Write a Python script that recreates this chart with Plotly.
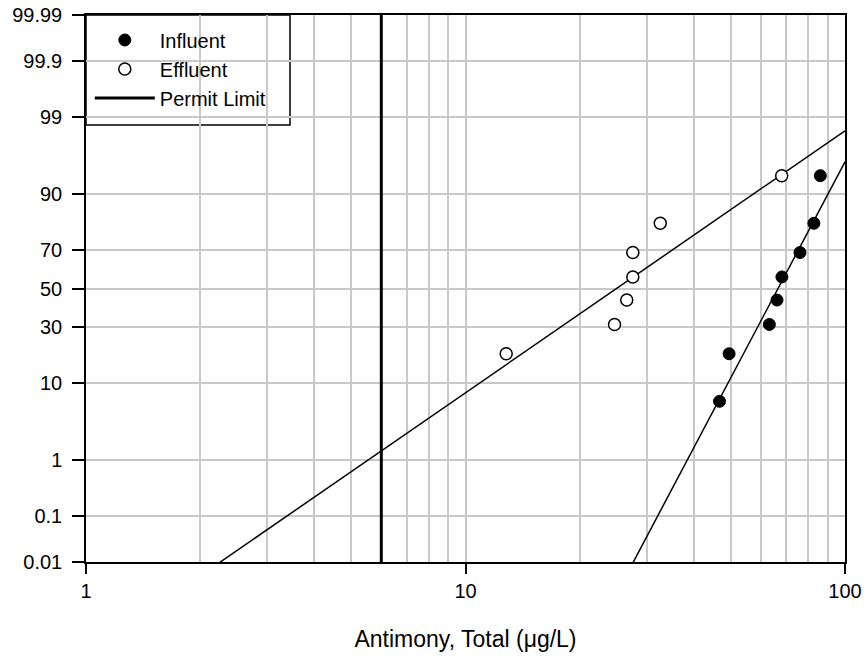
import plotly.graph_objects as go
from statistics import NormalDist
import math

# ---- data ----
influent_values = [46.7, 49.5, 63.2, 66.2, 68.2, 76.1, 82.8, 86.1]
influent_pct = [6.25, 18.75, 31.25, 43.75, 56.25, 68.75, 81.25, 93.75]
effluent_values = [12.8, 24.7, 26.6, 27.6, 27.6, 32.6, 68.1]
effluent_pct = [18.75, 31.25, 43.75, 56.25, 68.75, 81.25, 93.75]

# lognormal fit lines: geometric mean and log10 standard deviation
influent_fit_geomean = 66.6
influent_fit_logsd = 0.1025
effluent_fit_geomean = 25.0
effluent_fit_logsd = 0.2807
fit_x_range = [1, 100]

permit_limit = 6.0

y_tick_pct = [0.01, 0.1, 1, 10, 30, 50, 70, 90, 99, 99.9, 99.99]
y_tick_text = ["0.01", "0.1", "1", "10", "30", "50", "70", "90", "99", "99.9", "99.99"]
x_major = [1, 10, 100]
x_minor = [2, 3, 4, 5, 6, 7, 8, 9, 20, 30, 40, 50, 60, 70, 80, 90]

nd = NormalDist()


def z(p):
    return nd.inv_cdf(p / 100.0)


def fit_z(x, gm, sd):
    return (math.log10(x) - math.log10(gm)) / sd


zmin, zmax = z(0.01), z(99.99)
FONT = "Liberation Sans, Arial, sans-serif"

fig = go.Figure()

# fit lines (no legend)
fig.add_trace(go.Scatter(
    x=fit_x_range, y=[fit_z(v, effluent_fit_geomean, effluent_fit_logsd) for v in fit_x_range],
    mode="lines", line=dict(color="black", width=1.5), showlegend=False, hoverinfo="skip"))
fig.add_trace(go.Scatter(
    x=fit_x_range, y=[fit_z(v, influent_fit_geomean, influent_fit_logsd) for v in fit_x_range],
    mode="lines", line=dict(color="black", width=1.5), showlegend=False, hoverinfo="skip"))

fig.add_trace(go.Scatter(
    x=influent_values, y=[z(p) for p in influent_pct], mode="markers", name="Influent",
    marker=dict(symbol="circle", size=12, color="black", line=dict(color="black", width=1))))
fig.add_trace(go.Scatter(
    x=effluent_values, y=[z(p) for p in effluent_pct], mode="markers", name="Effluent",
    marker=dict(symbol="circle", size=12, color="white", line=dict(color="black", width=1.5))))
fig.add_trace(go.Scatter(
    x=[permit_limit, permit_limit], y=[zmin, zmax], mode="lines", name="Permit Limit",
    line=dict(color="black", width=3)))

# legend box
fig.add_shape(type="rect", xref="paper", yref="paper", x0=0, x1=(290 - 86) / 759, y0=1 - (125 - 15) / 547, y1=1,
              line=dict(color="black", width=1.5), fillcolor="white", layer="below")

fig.update_layout(
    width=866, height=662,
    margin=dict(l=86, r=21, t=15, b=100, autoexpand=False),
    paper_bgcolor="white", plot_bgcolor="white",
    font=dict(family=FONT, size=20, color="black"),
    showlegend=True,
    legend=dict(x=0.005, y=0.99, xanchor="left", yanchor="top", bgcolor="rgba(0,0,0,0)",
                borderwidth=0, font=dict(size=20), itemwidth=60),
    xaxis=dict(type="log", range=[0, 2], tickvals=x_major, ticktext=["1", "10", "100"],
               ticks="outside", ticklen=10, tickwidth=1.5, tickcolor="black",
               ticklabeloverflow="allow", automargin=False,
               showline=True, linecolor="black", linewidth=1.5, mirror=True,
               showgrid=True, gridcolor="#c8c8c8", gridwidth=1.5,
               minor=dict(tickvals=x_minor, showgrid=True, gridcolor="#c8c8c8", gridwidth=1.5, ticks=""),
               zeroline=False,
               title=dict(text="Antimony, Total (μg/L)", standoff=30, font=dict(size=23))),
    yaxis=dict(range=[zmin, zmax], tickvals=[z(p) for p in y_tick_pct], ticktext=y_tick_text,
               ticks="outside", ticklen=12, tickwidth=1.5, tickcolor="black",
               ticklabelstandoff=6, ticklabeloverflow="allow", automargin=False,
               showline=True, linecolor="black", linewidth=1.5, mirror=True,
               showgrid=True, gridcolor="#c8c8c8", gridwidth=1.5, zeroline=False),
)

# remove the default page margin so the figure sits at the window's top-left corner
fig.write_html("out.html",
               config={"displayModeBar": False},
               post_script="document.body.style.margin='0';document.body.style.overflow='hidden';")
